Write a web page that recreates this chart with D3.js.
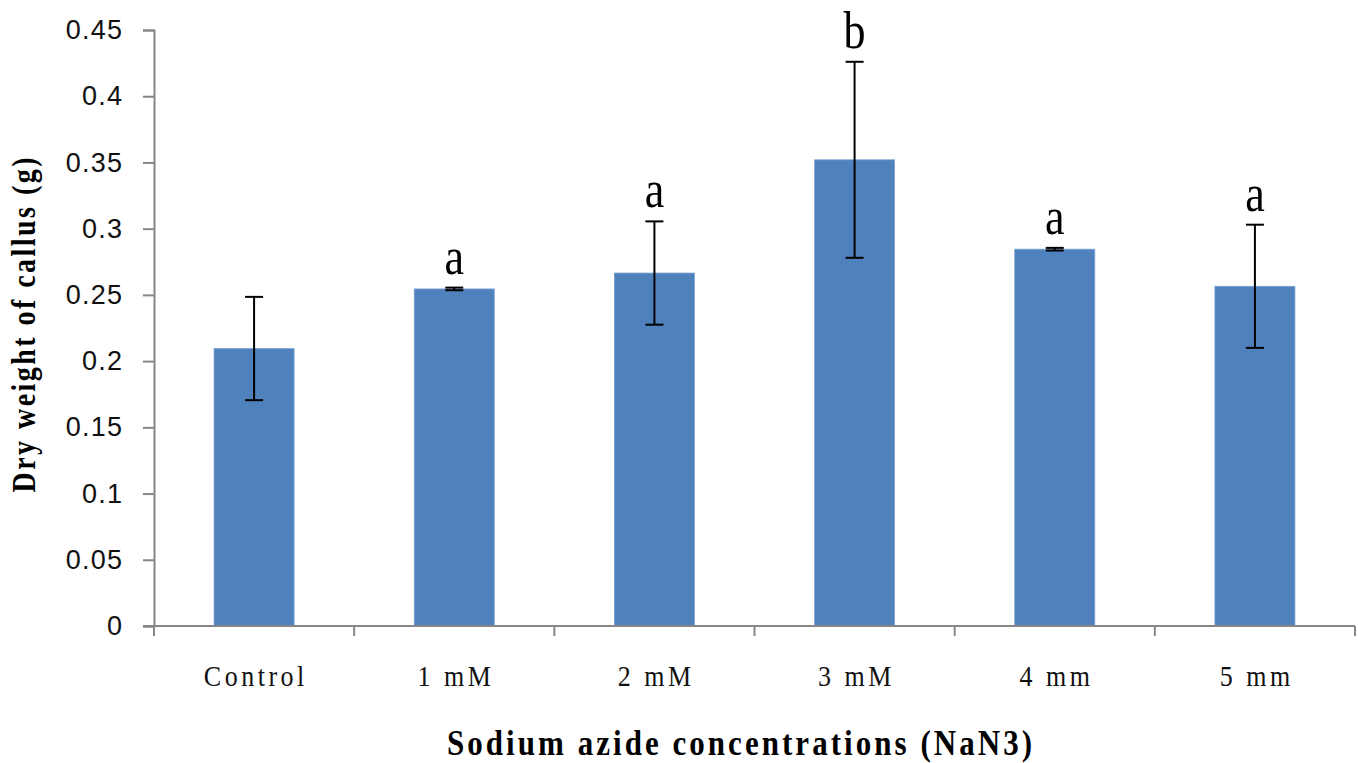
<!DOCTYPE html>
<html>
<head>
<meta charset="utf-8">
<script src="https://cdn.jsdelivr.net/npm/d3@7"></script>
<style>
  html, body { margin: 0; padding: 0; background: #ffffff; }
  svg { display: block; }
</style>
</head>
<body>
<svg id="chart" width="1358" height="763"></svg>
<script>
// ---- data ----
const categories = ["Control", "1 mM", "2 mM", "3 mM", "4 mm", "5 mm"];
const means      = [0.2095, 0.2545, 0.2665, 0.352, 0.2845, 0.2565];
const errors     = [0.039, 0.001, 0.039, 0.074, 0.001, 0.0465];
const letters    = ["", "a", "a", "b", "a", "a"];
const yTicks      = [0, 0.05, 0.1, 0.15, 0.2, 0.25, 0.3, 0.35, 0.4, 0.45];
const yTickLabels = ["0", "0.05", "0.1", "0.15", "0.2", "0.25", "0.3", "0.35", "0.4", "0.45"];
const xTitle = "Sodium azide concentrations (NaN3)";
const yTitle = "Dry weight of callus (g)";

// ---- layout ----
const svg = d3.select("#chart");
const axisColor = "#868686";
const barColor = "#4f81bd";

const x = d3.scaleBand().domain(categories).range([154, 1355]).paddingInner(0.6).paddingOuter(0.3);
const y = d3.scaleLinear().domain([0, 0.45]).range([626, 30]);
const step = x.step();
const x0 = x.range()[0];

const data = categories.map((c, i) => ({ c, m: means[i], e: errors[i], l: letters[i] }));

// bars
svg.append("g").selectAll("rect").data(data).join("rect")
  .attr("x", d => x(d.c))
  .attr("y", d => y(d.m))
  .attr("width", x.bandwidth())
  .attr("height", d => y(0) - y(d.m))
  .attr("fill", barColor)
  .attr("stroke", "#7fa3d1")
  .attr("stroke-width", 0.8);

// y axis
const yAxis = d3.axisLeft(y).tickValues(yTicks)
  .tickFormat((d, i) => yTickLabels[i]).tickSize(11).tickPadding(21);
const gy = svg.append("g").attr("transform", "translate(154,0)").call(yAxis);
gy.select(".domain").attr("stroke", axisColor).attr("stroke-width", 2);
gy.selectAll(".tick line").attr("stroke", axisColor).attr("stroke-width", 2);
gy.selectAll(".tick text")
  .attr("font-family", "'Liberation Sans', Arial, sans-serif")
  .attr("font-size", 27)
  .attr("letter-spacing", 1.2)
  .attr("fill", "#111")
  .attr("dx", 1.2);

// x axis line
svg.append("line")
  .attr("x1", x0 - 11).attr("x2", x.range()[1])
  .attr("y1", y(0)).attr("y2", y(0))
  .attr("stroke", axisColor).attr("stroke-width", 2);
// x ticks at category boundaries
svg.append("g").selectAll("line").data(d3.range(categories.length + 1)).join("line")
  .attr("x1", i => x0 + i * step).attr("x2", i => x0 + i * step)
  .attr("y1", y(0)).attr("y2", y(0) + 10)
  .attr("stroke", axisColor).attr("stroke-width", 2);

// category labels
svg.append("g").selectAll("text").data(data).join("text")
  .attr("transform", d => `translate(${x(d.c) + x.bandwidth() / 2 + 1.75},686) scale(1,1.12)`)
  .attr("text-anchor", "middle")
  .attr("font-family", "'Liberation Serif', 'Times New Roman', serif")
  .attr("font-size", 26)
  .attr("letter-spacing", 3.5)
  .attr("fill", "#111")
  .text(d => d.c);

// error bars
const eg = svg.append("g").attr("stroke", "#000").attr("stroke-width", 2);
data.forEach(d => {
  const cx = x(d.c) + x.bandwidth() / 2;
  eg.append("line").attr("x1", cx).attr("x2", cx).attr("y1", y(d.m + d.e)).attr("y2", y(d.m - d.e));
  eg.append("line").attr("x1", cx - 9).attr("x2", cx + 9).attr("y1", y(d.m + d.e)).attr("y2", y(d.m + d.e));
  eg.append("line").attr("x1", cx - 9).attr("x2", cx + 9).attr("y1", y(d.m - d.e)).attr("y2", y(d.m - d.e));
});

// significance letters
svg.append("g").selectAll("text").data(data.filter(d => d.l)).join("text")
  .attr("transform", d => `translate(${x(d.c) + x.bandwidth() / 2},${y(d.m + d.e) - 14}) scale(1,1.2)`)
  .attr("text-anchor", "middle")
  .attr("font-family", "'Liberation Serif', 'Times New Roman', serif")
  .attr("font-size", 44)
  .attr("fill", "#000")
  .text(d => d.l);

// x title
svg.append("text")
  .attr("transform", "translate(739.5,755) scale(1,1.13)")
  .attr("text-anchor", "middle")
  .attr("font-family", "'Liberation Serif', 'Times New Roman', serif")
  .attr("font-weight", "bold")
  .attr("font-size", 31)
  .attr("textLength", 585)
  .attr("lengthAdjust", "spacing")
  .attr("fill", "#000")
  .text(xTitle);

// y title
svg.append("text")
  .attr("transform", "translate(35,325) rotate(-90) scale(1,1.18)")
  .attr("text-anchor", "middle")
  .attr("font-family", "'Liberation Serif', 'Times New Roman', serif")
  .attr("font-weight", "bold")
  .attr("font-size", 28)
  .attr("textLength", 335)
  .attr("lengthAdjust", "spacing")
  .attr("fill", "#000")
  .text(yTitle);
</script>
</body>
</html>
